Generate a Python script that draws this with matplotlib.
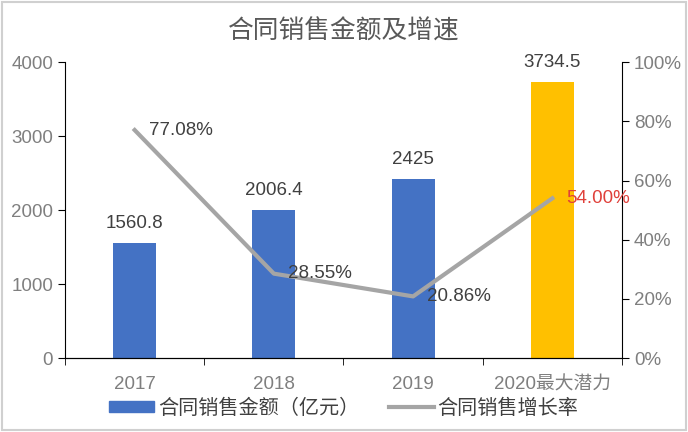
import matplotlib.pyplot as plt
from matplotlib.patches import Rectangle
from matplotlib.lines import Line2D
from matplotlib.patches import Patch

plt.rcParams['font.family'] = ['Liberation Sans', 'Noto Sans CJK SC', 'DejaVu Sans']

years = ["2017", "2018", "2019", "2020最大潜力"]
sales = [1560.8, 2006.4, 2425, 3734.5]
growth = [77.08, 28.55, 20.86, 54.00]
bar_colors = ["#4472C4", "#4472C4", "#4472C4", "#FFC000"]

tick_gray = "#7F7F7F"
label_gray = "#404040"

fig = plt.figure(figsize=(6.88, 4.32), dpi=100)
ax = fig.add_axes([0.0945, 0.171, 0.8095, 0.685])
x = list(range(len(years)))

# bars for the sales amount
ax.bar(x, sales, width=0.31, color=bar_colors, zorder=2)
for xi, v in zip(x, sales):
    ax.annotate(f"{v:g}", (xi, v), xytext=(0, 14), textcoords="offset points",
                ha="center", va="center", fontsize=13.5, color=label_gray)

ax.set_xlim(-0.5, 3.5)
ax.set_ylim(0, 4000)
ax.set_yticks([0, 1000, 2000, 3000, 4000])
ax.set_xticks(x)
ax.set_xticklabels(years)
ax.set_xticks([-0.5, 0.5, 1.5, 2.5, 3.5], minor=True)
ax.tick_params(axis="x", which="major", length=0, labelsize=13.5, labelcolor=tick_gray, pad=13)
ax.tick_params(axis="x", which="minor", length=5, direction="out", color="black")
ax.tick_params(axis="y", length=5, direction="out", labelsize=13.5, labelcolor=tick_gray)
ax.spines["top"].set_visible(False)
ax.spines["right"].set_visible(False)

# growth rate line on the right axis
ax2 = ax.twinx()
ax2.plot(x, growth, color="#A5A5A5", linewidth=3, zorder=3)
ax2.set_ylim(0, 100)
ax2.set_yticks([0, 20, 40, 60, 80, 100])
ax2.set_yticklabels([f"{t}%" for t in [0, 20, 40, 60, 80, 100]])
ax2.tick_params(axis="y", length=5, direction="out", labelsize=13.5, labelcolor=tick_gray)
ax2.spines["top"].set_visible(False)
ax2.spines["left"].set_visible(False)
label_colors = [label_gray, label_gray, label_gray, "#E0403A"]
for xi, v, c in zip(x, growth, label_colors):
    ax2.annotate(f"{v:.2f}%", (xi, v), xytext=(10, 0), textcoords="offset points",
                 ha="left", va="center", fontsize=13.5, color=c)

fig.text(0.5, 0.927, "合同销售金额及增速", ha="center", va="center",
         fontsize=18.5, color="#595959")

handles = [Patch(color="#4472C4"), Line2D([], [], color="#A5A5A5", linewidth=3)]
fig.legend(handles, ["合同销售金额（亿元）", "合同销售增长率"], loc="center",
           bbox_to_anchor=(0.5, 0.055), ncol=2, frameon=False, fontsize=14.5,
           handlelength=2.2, handleheight=0.5, columnspacing=1.5, handletextpad=0.2,
           labelcolor=label_gray)

fig.patches.append(Rectangle((0.003, 0.005), 0.994, 0.99, transform=fig.transFigure,
                             fill=False, edgecolor="#D0D0D0", linewidth=1.5))

fig.savefig("out.png", dpi=100)
